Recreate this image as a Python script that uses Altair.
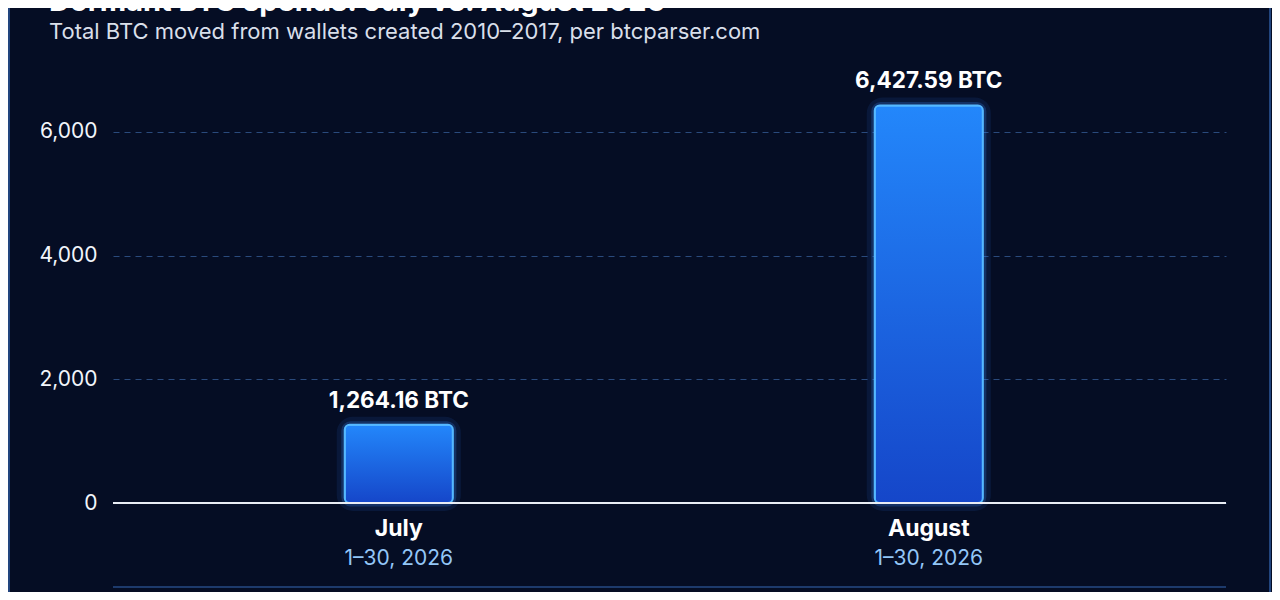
import altair as alt
import pandas as pd

months = ["July", "August"]
date_ranges = ["1–30, 2026", "1–30, 2026"]
btc_moved = [1264.16, 6427.59]
value_labels = ["1,264.16 BTC", "6,427.59 BTC"]
y_ticks = [0, 2000, 4000, 6000]

title_text = "Dormant BTC spends: July vs. August 2026"
subtitle_text = "Total BTC moved from wallets created 2010–2017, per btcparser.com"

df = pd.DataFrame({
    "month": months,
    "range": date_ranges,
    "btc": btc_moved,
    "label": value_labels,
})
one = pd.DataFrame({"a": [0]})

FONT = "Inter"
BG = "#050d24"
W, H = 1113, 433

x_enc = alt.X("month:N", sort=months,
              scale=alt.Scale(paddingInner=0.796, paddingOuter=0.448, align=0.488),
              axis=None)
y_scale = alt.Scale(domain=[0, 7000], nice=False)

base = alt.Chart(df)

glow1 = base.mark_bar(fillOpacity=0, stroke="#2f7bff", strokeWidth=16,
                      strokeOpacity=0.10, cornerRadius=8).encode(
    x=x_enc, y=alt.Y("btc:Q", scale=y_scale))
glow2 = base.mark_bar(fillOpacity=0, stroke="#3a8bff", strokeWidth=7,
                      strokeOpacity=0.22, cornerRadius=6).encode(
    x=x_enc, y=alt.Y("btc:Q", scale=y_scale))

bars = base.mark_bar(
    cornerRadius=5,
    stroke="#55b8ff",
    strokeWidth=2,
    color=alt.Gradient(
        gradient="linear",
        stops=[alt.GradientStop(color="#2387fb", offset=0),
               alt.GradientStop(color="#1546c9", offset=1)],
        x1=0, x2=0, y1=0, y2=1,
    ),
).encode(
    x=x_enc,
    y=alt.Y("btc:Q", scale=y_scale, title=None,
            axis=alt.Axis(values=y_ticks, format=",.0f", ticks=False, domain=False,
                          labelColor="#f2f5fb", labelFont=FONT, labelFontSize=21,
                          labelPadding=16, gridColor="#2a4a7c", gridDash=[6, 5],
                          gridWidth=1)),
)

baseline = alt.Chart(one).mark_rule(color="#e9edf5", strokeWidth=2).encode(
    y=alt.datum(0, scale=y_scale), x=alt.value(0), x2=alt.value(W))

value_text = base.mark_text(font=FONT, fontSize=22.5, fontWeight="bold",
                            color="#ffffff", dy=-17, baseline="alphabetic").encode(
    x=x_enc, y=alt.Y("btc:Q", scale=y_scale), text="label:N")

month_text = base.mark_text(font=FONT, fontSize=23, fontWeight="bold",
                            color="#ffffff", baseline="middle").encode(
    x=x_enc, y=alt.value(459), text="month:N")

range_text = base.mark_text(font=FONT, fontSize=21, color="#93c6f7",
                            baseline="middle").encode(
    x=x_enc, y=alt.value(489), text="range:N")

divider = alt.Chart(one).mark_rule(color="#1d3a6c", strokeWidth=2).encode(
    x=alt.value(0), x2=alt.value(W), y=alt.value(517))

border_l = alt.Chart(one).mark_rule(color="#22457e", strokeWidth=2).encode(
    x=alt.value(-104), y=alt.value(-62), y2=alt.value(530))
border_r = alt.Chart(one).mark_rule(color="#22457e", strokeWidth=2).encode(
    x=alt.value(1157), y=alt.value(-62), y2=alt.value(530))

title = alt.Chart(one).mark_text(font=FONT, fontSize=29, fontWeight="bold",
                                 color="#ffffff", align="left",
                                 baseline="alphabetic").encode(
    x=alt.value(-64), y=alt.value(-59), text=alt.value(title_text))
subtitle = alt.Chart(one).mark_text(font=FONT, fontSize=22, color="#d9dfea",
                                    align="left", baseline="alphabetic").encode(
    x=alt.value(-64), y=alt.value(-31), text=alt.value(subtitle_text))

chart = alt.layer(
    border_l, border_r, glow1, glow2, bars, baseline, value_text,
    month_text, range_text, divider, title, subtitle,
).properties(
    width=W, height=H,
    background=BG,
    padding={"left": 105, "top": 62, "right": 46, "bottom": 89},
    autosize=alt.AutoSizeParams(type="none"),
).configure_view(stroke="transparent")

chart.save("out.html", embed_options={"renderer": "svg", "actions": False})
